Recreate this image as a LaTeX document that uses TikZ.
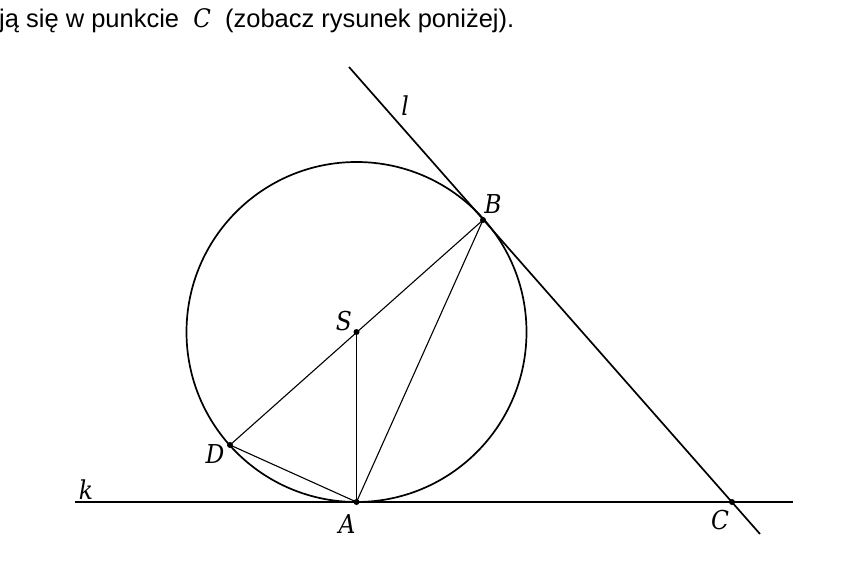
\documentclass[tikz,border=0pt]{standalone}
\usepackage{fontspec}
\setmainfont{Liberation Sans}
\newfontfamily\lblfont{DejaVu Serif Condensed}
\begin{document}
\begin{tikzpicture}[x=1pt,y=-1pt,
  thickline/.style={line width=1.7pt},
  thinline/.style={line width=1.1pt},
  pt/.style={circle,fill=black,inner sep=0pt,minimum size=6pt},
  lbl/.style={font=\lblfont\itshape\fontsize{26}{26}\selectfont,inner sep=0pt}]
\useasboundingbox (0,0) rectangle (867,575);
\node[anchor=base west,inner sep=0pt,font=\fontsize{25.5}{25.5}\selectfont] (txt) at (-1,28) {ją się w punkcie \ {\lblfont\itshape C} \ (zobacz rysunek poniżej).};
\coordinate (S) at (356.5,332);
\coordinate (A) at (356.5,502);
\coordinate (B) at (483,220);
\coordinate (D) at (230,445);
\coordinate (C) at (732,502);
\coordinate (k1) at (75,502);
\coordinate (k2) at (793,502);
\coordinate (l1) at (349,67);
\coordinate (l2) at (760,534);
\draw[thickline] (S) circle[radius=170];
\draw[thickline] (k1) -- (k2);
\draw[thickline] (l1) -- (l2);
\draw[thinline] (D) -- (B);
\draw[thinline] (S) -- (A);
\draw[thinline] (A) -- (B);
\draw[thinline] (D) -- (A);
\node[pt] (nS) at (S) {};
\node[pt] (nA) at (A) {};
\node[pt] (nB) at (B) {};
\node[pt] (nD) at (D) {};
\node[pt] (nC) at (C) {};
\node[lbl] (lS) at (344,321) {S};
\node[lbl] (lA) at (347,524) {A};
\node[lbl] (lB) at (493,204) {B};
\node[lbl] (lD) at (215,454) {D};
\node[lbl] (lC) at (720,520) {C};
\node[lbl] (lk) at (86,490) {k};
\node[lbl] (ll) at (405,106) {l};
\end{tikzpicture}
\end{document}
